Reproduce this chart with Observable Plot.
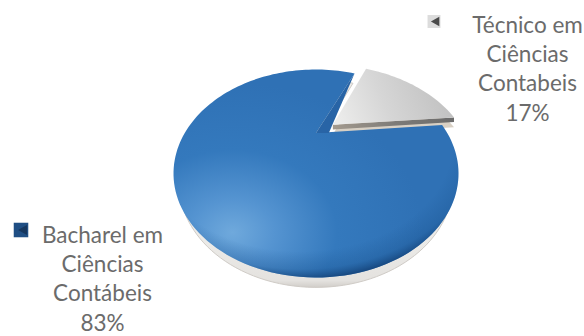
<!DOCTYPE html>
<html lang="pt">
<head>
<meta charset="utf-8">
<script src="https://cdn.jsdelivr.net/npm/d3@7"></script>
<script src="https://cdn.jsdelivr.net/npm/@observablehq/plot@0.6"></script>
<style>
  html, body { margin: 0; padding: 0; background: #fff; }
  svg { display: block; }
</style>
</head>
<body>
<div id="chart"></div>
<script>
// Course shares drawn as a tilted, perspective pie with one exploded slice.
const categories = ["Técnico em\nCiências\nContabeis", "Bacharel em\nCiências\nContábeis"];
const shares = [17, 83];

const width = 584, height = 336;
const rad = Math.PI / 180;
const tilt = 0.39;          // how far the pie's hub sits above the centre of the rim
const firstSliceStart = 23.5; // degrees clockwise from twelve o'clock
const explode = 0.165;      // outward shift of the small slice on the disc
const rimDrop = 0.095;      // vertical depth of the pie edge
const wallDrop = 0.045;     // thickness of the exploded slice's cut face

const arcs = d3.pie().sort(null).startAngle(firstSliceStart * rad).endAngle((firstSliceStart + 360) * rad)(shares);

// Projective map of the unit disc: circle stays a circle, hub moves up by `tilt`.
function project(u, v) {
  const d = 1 + tilt * v;
  return {x: u * Math.sqrt(1 - tilt * tilt) / d, y: (v + tilt) / d};
}

// Outline of a slice: hub, then points along its arc, optionally shifted along its bisector.
function slice(arc, shift = 0) {
  const mid = (arc.startAngle + arc.endAngle) / 2;
  const ou = Math.sin(mid) * shift, ov = Math.cos(mid) * shift;
  const pts = [project(ou, ov)];
  const n = Math.ceil((arc.endAngle - arc.startAngle) / (2 * rad));
  for (let i = 0; i <= n; ++i) {
    const a = arc.startAngle + (arc.endAngle - arc.startAngle) * i / n;
    pts.push(project(ou + Math.sin(a), ov + Math.cos(a)));
  }
  pts.push(pts[0]);
  return pts;
}

const lowered = (pts, dy, kx = 1) => pts.map(p => ({x: p.x * kx, y: p.y - dy}));

const smallSlice = slice(arcs[0], explode);
const largeSlice = slice(arcs[1]);

// Cut face on the large slice's first edge: hub, outer corner, and hub pushed right.
const hub = largeSlice[0];
const corner = largeSlice[largeSlice.length - 2];
const cutFace = [hub, corner, {x: hub.x + 0.09, y: hub.y}, hub];

// Front face under the exploded slice's straight edge that faces the viewer.
const edgeEnd = smallSlice[smallSlice.length - 2];
const smallFace = [smallSlice[0], edgeEnd, {x: edgeEnd.x, y: edgeEnd.y - wallDrop}, {x: smallSlice[0].x, y: smallSlice[0].y - wallDrop}, smallSlice[0]];

const defs = () => {
  const s = d3.create("svg:defs");
  const stops = (g, list) => list.forEach(([o, c, a = 1]) => g.append("stop").attr("offset", o).attr("stop-color", c).attr("stop-opacity", a));
  const radial = (id, cx, cy, rx, ry, list) => {
    const g = s.append("radialGradient").attr("id", id).attr("gradientUnits", "userSpaceOnUse")
      .attr("cx", 0).attr("cy", 0).attr("r", 1)
      .attr("gradientTransform", `translate(${cx},${cy}) scale(${rx},${ry})`);
    stops(g, list);
  };
  const linear = (id, x1, y1, x2, y2, list) => {
    const g = s.append("linearGradient").attr("id", id).attr("gradientUnits", "userSpaceOnUse")
      .attr("x1", x1).attr("y1", y1).attr("x2", x2).attr("y2", y2);
    stops(g, list);
  };
  radial("blueBody", 232, 232, 190, 150, [[0, "#6fa9dc"], [0.22, "#5594d1"], [0.55, "#3479bd"], [1, "#2f71b5"]]);
  radial("blueEdge", 300, 142, 190, 136, [[0.8, "#17508c", 0], [0.93, "#17508c", 0.3], [1, "#123f74", 0.8]]);
  linear("rimFill", 0, 240, 0, 290, [[0, "#ecebe8"], [0.8, "#e4e2df"], [1, "#c8c4bf"]]);
  linear("greyTop", 340, 125, 440, 85, [[0, "#ececeb"], [0.45, "#d6d6d6"], [1, "#c2c2c2"]]);
  linear("greyFace", 333, 0, 456, 0, [[0, "#a39a8e"], [0.5, "#7d7b78"], [1, "#6a6a6a"]]);
  linear("keyGrey", 427, 0, 440, 0, [[0, "#dcdcdc"], [1, "#a8a8a8"]]);
  linear("keyBlue", 0, 223, 0, 236, [[0, "#1f4e84"], [0.6, "#3a7fc2"], [1, "#1c4c82"]]);
  return s.node();
};

const outline = {x: "x", y: "y", curve: "linear", stroke: "none"};
const textStyle = {fontFamily: "Lato, 'Open Sans', sans-serif", fontSize: 22.5, fill: "#6b6b6b", lineHeight: 1.3, textAnchor: "middle", lineAnchor: "bottom"};
const label = i => `${categories[i]}\n${shares[i]}%`;

const plot = Plot.plot({
  width, height,
  margin: 0,
  style: {background: "#fff"},
  x: {domain: [-1, 1], range: [173, 458], axis: null},
  y: {domain: [-1, 1], range: [277, 69], axis: null},
  marks: [
    defs,
    Plot.line(lowered(smallSlice, rimDrop), {...outline, fill: "#d8d0c4"}),
    Plot.line(lowered(largeSlice, rimDrop, 0.96), {...outline, fill: "url(#rimFill)", stroke: "#cfcbc6", strokeWidth: 1}),
    Plot.line(largeSlice, {...outline, fill: "url(#blueBody)"}),
    Plot.line(largeSlice, {...outline, fill: "url(#blueEdge)"}),
    Plot.line(cutFace, {...outline, fill: "#2864a6"}),
    Plot.line(smallFace, {...outline, fill: "url(#greyFace)"}),
    Plot.line(smallSlice, {...outline, fill: "url(#greyTop)"}),
    // Legend keys beside each label
    Plot.dot([0], {frameAnchor: "top-left", dx: 433.5, dy: 21, r: 7.3, symbol: "square", fill: "url(#keyGrey)"}),
    Plot.dot([0], {frameAnchor: "top-left", dx: 436, dy: 21, r: 3.6, symbol: "triangle", rotate: -90, fill: "#4a4a4a"}),
    Plot.dot([0], {frameAnchor: "top-left", dx: 20.5, dy: 229.5, r: 8.2, symbol: "square", fill: "url(#keyBlue)"}),
    Plot.dot([0], {frameAnchor: "top-left", dx: 23.5, dy: 229.5, r: 3.8, symbol: "triangle", rotate: -90, fill: "#15365e"}),
    // Labels
    Plot.text([label(0)], {text: d => d, frameAnchor: "top-left", dx: 527, dy: 120, ...textStyle}),
    Plot.text([label(1)], {text: d => d, frameAnchor: "top-left", dx: 102, dy: 330, ...textStyle})
  ]
});

document.getElementById("chart").append(plot);
</script>
</body>
</html>
